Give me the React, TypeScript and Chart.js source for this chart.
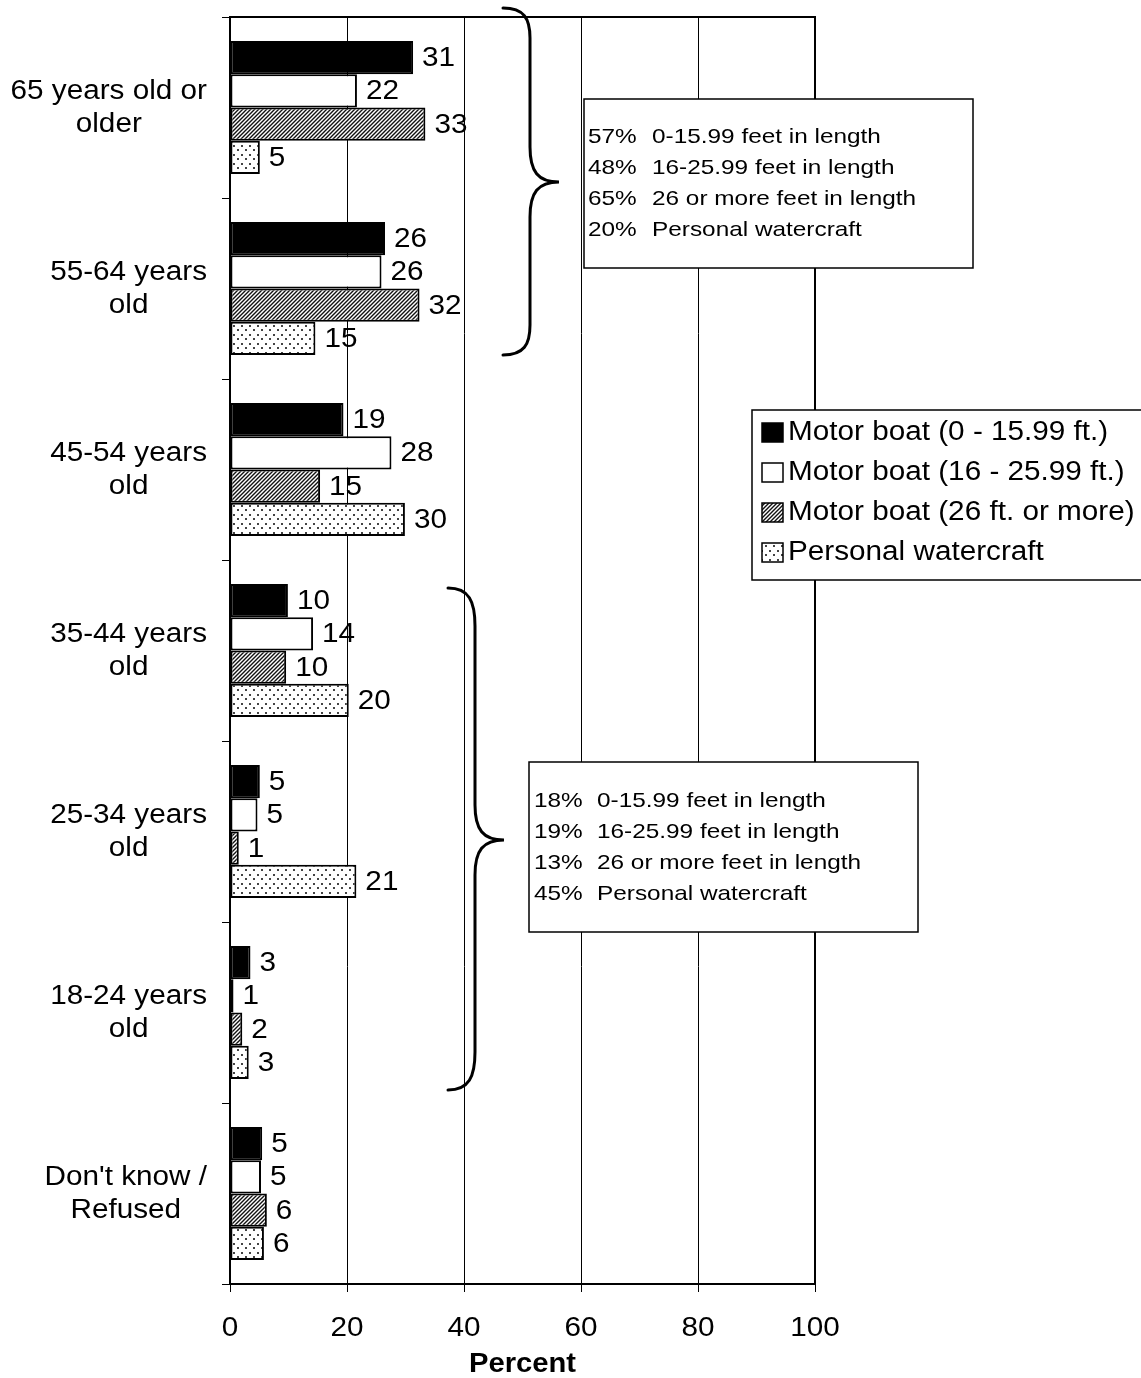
import React, { useEffect, useRef } from "react";
import { Chart, registerables } from "chart.js";

Chart.register(...registerables);

// ---------- data ----------
const CATEGORIES: string[][] = [
  ["65 years old or", "older"],
  ["55-64 years", "old"],
  ["45-54 years", "old"],
  ["35-44 years", "old"],
  ["25-34 years", "old"],
  ["18-24 years", "old"],
  ["Don't know /", "Refused"],
];

const SERIES_NAMES = [
  "Motor boat (0 - 15.99 ft.)",
  "Motor boat (16 - 25.99 ft.)",
  "Motor boat (26 ft. or more)",
  "Personal watercraft",
];

// bar lengths (percent)
const MOTOR_SMALL = [31.3, 26.5, 19.4, 9.9, 5.1, 3.5, 5.5];
const MOTOR_MEDIUM = [21.7, 25.9, 27.6, 14.2, 4.7, 0.6, 5.3];
const MOTOR_LARGE = [33.4, 32.4, 15.4, 9.6, 1.5, 2.1, 6.3];
const PERSONAL_WATERCRAFT = [5.1, 14.6, 29.9, 20.3, 21.6, 3.2, 5.8];

// printed value labels
const MOTOR_SMALL_LABELS = [31, 26, 19, 10, 5, 3, 5];
const MOTOR_MEDIUM_LABELS = [22, 26, 28, 14, 5, 1, 5];
const MOTOR_LARGE_LABELS = [33, 32, 15, 10, 1, 2, 6];
const PERSONAL_WATERCRAFT_LABELS = [5, 15, 30, 20, 21, 3, 6];

const X_TICKS = [0, 20, 40, 60, 80, 100];
const X_TITLE = "Percent";

const OLDER_NOTE_PCT = ["57%", "48%", "65%", "20%"];
const YOUNGER_NOTE_PCT = ["18%", "19%", "13%", "45%"];
const NOTE_TEXT = [
  "0-15.99 feet in length",
  "16-25.99 feet in length",
  "26 or more feet in length",
  "Personal watercraft",
];

// ---------- helpers ----------
const FONT = "Arial, 'Liberation Sans', Helvetica, sans-serif";
const SX = 1.1;
const MAIN = `27px ${FONT}`;

function drawText(
  ctx: CanvasRenderingContext2D,
  text: string,
  x: number,
  y: number,
  align: CanvasTextAlign,
  font: string,
  sx: number = SX
) {
  ctx.save();
  ctx.font = font;
  ctx.fillStyle = "#000";
  ctx.textAlign = align;
  ctx.textBaseline = "middle";
  ctx.translate(x, y);
  ctx.scale(sx, 1);
  ctx.fillText(text, 0, 0);
  ctx.restore();
}

function makeHatch(ctx: CanvasRenderingContext2D) {
  const c = document.createElement("canvas");
  c.width = 4;
  c.height = 4;
  const g = c.getContext("2d")!;
  g.fillStyle = "#fff";
  g.fillRect(0, 0, 4, 4);
  g.strokeStyle = "#111";
  g.lineWidth = 1.4;
  g.beginPath();
  g.moveTo(-1, 5);
  g.lineTo(5, -1);
  g.moveTo(-1, 1);
  g.lineTo(1, -1);
  g.moveTo(3, 5);
  g.lineTo(5, 3);
  g.stroke();
  return ctx.createPattern(c, "repeat")!;
}

function makeDots(ctx: CanvasRenderingContext2D) {
  const c = document.createElement("canvas");
  c.width = 8;
  c.height = 9;
  const g = c.getContext("2d")!;
  g.fillStyle = "#fff";
  g.fillRect(0, 0, 8, 9);
  g.fillStyle = "#444";
  g.fillRect(1, 1, 2, 2);
  g.fillRect(5, 5, 2, 2);
  return ctx.createPattern(c, "repeat")!;
}

function drawBrace(
  ctx: CanvasRenderingContext2D,
  tipX: number,
  spineX: number,
  pointX: number,
  top: number,
  mid: number,
  bottom: number,
  endCurve: number,
  midCurve: number
) {
  ctx.save();
  ctx.strokeStyle = "#000";
  ctx.lineWidth = 3;
  ctx.lineCap = "round";
  ctx.beginPath();
  ctx.moveTo(tipX, top);
  ctx.bezierCurveTo(spineX - 6, top, spineX, top + endCurve * 0.35, spineX, top + endCurve);
  ctx.lineTo(spineX, mid - midCurve);
  ctx.bezierCurveTo(spineX, mid - midCurve * 0.3, spineX + 8, mid, pointX, mid);
  ctx.bezierCurveTo(spineX + 8, mid, spineX, mid + midCurve * 0.3, spineX, mid + midCurve);
  ctx.lineTo(spineX, bottom - endCurve);
  ctx.bezierCurveTo(spineX, bottom - endCurve * 0.35, spineX - 6, bottom, tipX, bottom);
  ctx.stroke();
  ctx.restore();
}

function drawNote(
  ctx: CanvasRenderingContext2D,
  left: number,
  top: number,
  right: number,
  bottom: number,
  pcts: string[],
  texts: string[],
  firstLineY: number,
  pctX: number,
  textX: number
) {
  ctx.save();
  ctx.fillStyle = "#fff";
  ctx.fillRect(left, top, right - left, bottom - top);
  ctx.strokeStyle = "#000";
  ctx.lineWidth = 1.5;
  ctx.strokeRect(left, top, right - left, bottom - top);
  ctx.restore();
  const lh = 31;
  pcts.forEach((p, i) => {
    drawText(ctx, p, pctX, firstLineY + i * lh, "left", `21px ${FONT}`, 1.16);
    drawText(ctx, texts[i], textX, firstLineY + i * lh, "left", `21px ${FONT}`, 1.16);
  });
}

const VALUE_LABELS = [
  MOTOR_SMALL_LABELS,
  MOTOR_MEDIUM_LABELS,
  MOTOR_LARGE_LABELS,
  PERSONAL_WATERCRAFT_LABELS,
];

const decorPlugin = {
  id: "decor",
  afterDatasetsDraw(chart: any) {
    const ctx: CanvasRenderingContext2D = chart.ctx;
    chart.data.datasets.forEach((_ds: any, di: number) => {
      const meta = chart.getDatasetMeta(di);
      meta.data.forEach((el: any, i: number) => {
        drawText(ctx, String(VALUE_LABELS[di][i]), el.x + 9, el.y + 1, "left", MAIN);
      });
    });
  },
  afterDraw(chart: any) {
    const ctx: CanvasRenderingContext2D = chart.ctx;
    const ca = chart.chartArea;
    const xs = chart.scales.x;
    const ys = chart.scales.y;

    // frame top & right
    ctx.save();
    ctx.strokeStyle = "#000";
    ctx.lineWidth = 2;
    ctx.beginPath();
    ctx.moveTo(ca.left, ca.top);
    ctx.lineTo(ca.right, ca.top);
    ctx.lineTo(ca.right, ca.bottom);
    ctx.stroke();
    ctx.restore();

    // category labels
    ctx.save();
    ctx.font = MAIN;
    CATEGORIES.forEach((lines, i) => {
      const y = ys.getPixelForValue(i);
      const widths = lines.map((l) => ctx.measureText(l).width * SX);
      const w = Math.max(...widths);
      const cx = 207 - w / 2;
      const lh = 33;
      lines.forEach((l, j) => {
        drawText(ctx, l, cx, y + 1 + (j - (lines.length - 1) / 2) * lh, "center", MAIN);
      });
    });
    ctx.restore();

    // x tick labels
    X_TICKS.forEach((v) => {
      drawText(ctx, String(v), xs.getPixelForValue(v), ca.bottom + 45, "center", MAIN);
    });
    drawText(ctx, X_TITLE, (ca.left + ca.right) / 2, ca.bottom + 81, "center", `bold 27px ${FONT}`, 1.08);

    // braces
    drawBrace(ctx, 503, 530, 559, 8, 182, 355, 30, 35);
    drawBrace(ctx, 448, 475, 504, 588, 840, 1090, 38, 35);

    // notes
    drawNote(ctx, 584, 99, 973, 268, OLDER_NOTE_PCT, NOTE_TEXT, 137, 588, 652);
    drawNote(ctx, 529, 762, 918, 932, YOUNGER_NOTE_PCT, NOTE_TEXT, 801, 534, 597);

    // legend
    ctx.save();
    ctx.fillStyle = "#fff";
    ctx.fillRect(752, 410, 400, 170);
    ctx.strokeStyle = "#000";
    ctx.lineWidth = 1.5;
    ctx.strokeRect(752, 410, 400, 170);
    ctx.restore();
    chart.data.datasets.forEach((ds: any, di: number) => {
      const y = 432 + di * 40;
      ctx.save();
      ctx.fillStyle = ds.backgroundColor;
      ctx.fillRect(762, y - 9, 21, 19);
      ctx.strokeStyle = "#000";
      ctx.lineWidth = 1.5;
      ctx.strokeRect(762, y - 9, 21, 19);
      ctx.restore();
      drawText(ctx, SERIES_NAMES[di], 788, y + 1, "left", MAIN);
    });
  },
};

export default function App() {
  const ref = useRef<HTMLCanvasElement | null>(null);

  useEffect(() => {
    const canvas = ref.current!;
    const ctx = canvas.getContext("2d")!;
    const hatch = makeHatch(ctx);
    const dots = makeDots(ctx);
    const common = { borderColor: "#000", borderWidth: 2, borderSkipped: false as any };
    const chart = new Chart(canvas, {
      type: "bar",
      data: {
        labels: CATEGORIES as any,
        datasets: [
          { label: SERIES_NAMES[0], data: MOTOR_SMALL, backgroundColor: "#000", ...common },
          { label: SERIES_NAMES[1], data: MOTOR_MEDIUM, backgroundColor: "#fff", ...common },
          { label: SERIES_NAMES[2], data: MOTOR_LARGE, backgroundColor: hatch as any, ...common },
          { label: SERIES_NAMES[3], data: PERSONAL_WATERCRAFT, backgroundColor: dots as any, ...common },
        ],
      },
      options: {
        indexAxis: "y",
        responsive: false,
        animation: false,
        devicePixelRatio: 1,
        layout: { padding: { left: 0, right: 326, top: 17, bottom: 0 } },
        datasets: { bar: { categoryPercentage: 0.735, barPercentage: 1 } },
        plugins: { legend: { display: false }, tooltip: { enabled: false } },
        scales: {
          x: {
            type: "linear",
            position: "bottom",
            min: 0,
            max: 100,
            ticks: { display: false, stepSize: 20 },
            grid: { color: "#000", lineWidth: 1, tickLength: 8, drawTicks: true },
            border: { color: "#000", width: 2 },
            afterFit: (s: any) => {
              s.height = 94;
            },
          },
          y: {
            type: "category",
            position: "left",
            ticks: { display: false },
            grid: { color: "#000", lineWidth: 1, drawOnChartArea: false, tickLength: 8, offset: true },
            border: { color: "#000", width: 2 },
            afterFit: (s: any) => {
              s.width = 230;
            },
          },
        },
      } as any,
      plugins: [decorPlugin],
    });
    return () => chart.destroy();
  }, []);

  return (
    <div style={{ position: "absolute", left: 0, top: 0, width: 1141, height: 1378, background: "#fff" }}>
      <canvas ref={ref} width={1141} height={1378} style={{ display: "block", width: 1141, height: 1378 }} />
    </div>
  );
}
